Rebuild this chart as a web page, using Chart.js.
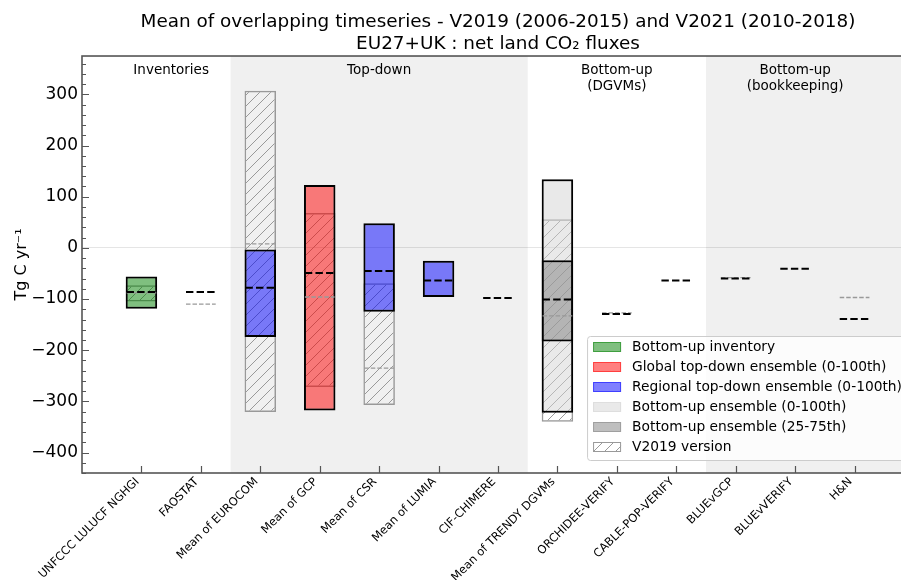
<!DOCTYPE html>
<html>
<head>
<meta charset="utf-8">
<script src="https://cdn.jsdelivr.net/npm/chart.js@4.4.1/dist/chart.umd.min.js"></script>
<style>
html,body{margin:0;padding:0;overflow:hidden;background:#fff;width:901px;height:580px;}
canvas{display:block;}
</style>
</head>
<body>
<canvas id="c" width="920" height="580" style="width:920px;height:580px"></canvas>
<script>
// ---------------- data ----------------
const categories = ['UNFCCC LULUCF NGHGI', 'FAOSTAT', 'Mean of EUROCOM', 'Mean of GCP', 'Mean of CSR',
  'Mean of LUMIA', 'CIF-CHIMERE', 'Mean of TRENDY DGVMs', 'ORCHIDEE-VERIFY', 'CABLE-POP-VERIFY',
  'BLUEvGCP', 'BLUEvVERIFY', 'H&N'];
const ensembleKind = ['inventory', null, 'regional', 'global', 'regional', 'regional', null, 'bottomup',
  null, null, null, null, null];
// V2021 (2010-2018)
const v2021Min  = [-119, null, -174, -318, -125, -96, null, -322, null, null, null, null, null];
const v2021Max  = [-56, null, -3, 123, 48, -25, null, 134, null, null, null, null, null];
const v2021P25  = [null, null, null, null, null, null, null, -183, null, null, null, null, null];
const v2021P75  = [null, null, null, null, null, null, null, -24, null, null, null, null, null];
const v2021Mean = [-86, -86, -78, -49, -45, -64, -98, -101, -129, -64, -60, -41, -139];
// V2019 (2006-2015)
const v2019Min  = [-105, null, -321, -272, -307, null, null, -340, null, null, null, null, null];
const v2019Max  = [-73, null, 307, 68, -69, null, null, 56, null, null, null, null, null];
const v2019Mean = [-88, -110, 8, -96, -235, null, null, -133, -127, null, -58, null, -97];
// groups of categories
const groupNames = ['Inventories', 'Top-down', 'Bottom-up\n(DGVMs)', 'Bottom-up\n(bookkeeping)'];
const groupFirst = [0, 2, 7, 10];
const groupLast  = [1, 6, 9, 12];
// axis tick labels
const yTickLabels = [-400, -300, -200, -100, 0, 100, 200, 300];
const legendLabels = ['Bottom-up inventory', 'Global top-down ensemble (0-100th)',
  'Regional top-down ensemble (0-100th)', 'Bottom-up ensemble (0-100th)',
  'Bottom-up ensemble (25-75th)', 'V2019 version'];
const titleLines = ['Mean of overlapping timeseries - V2019 (2006-2015) and V2021 (2010-2018)',
  'EU27+UK : net land CO\u2082 fluxes'];
const yAxisTitle = 'Tg C yr\u207B\u00B9';

// ---------------- styles ----------------
const FONT = 'DejaVu Sans';
Chart.defaults.font.family = FONT;
Chart.defaults.color = '#000';
const C_GREEN = 'rgba(0,128,0,0.5)';
const C_RED = 'rgba(255,0,0,0.5)';
const C_BLUE = 'rgba(0,0,255,0.5)';
const C_LIGHT = 'rgba(211,211,211,0.5)';
const C_DARK = 'rgba(128,128,128,0.5)';
const C_HATCH = '#999999';
const SPINE = '#555555';
const SHADE = '#f0f0f0';
const LEGEND_FONT = 13.8;

const canvas = document.getElementById('c');
const ctx = canvas.getContext('2d');

function hatchPattern(bg) {
  const s = 11;
  const c = document.createElement('canvas');
  c.width = s; c.height = s;
  const g = c.getContext('2d');
  if (bg) { g.fillStyle = bg; g.fillRect(0, 0, s, s); }
  g.strokeStyle = C_HATCH;
  g.lineWidth = 1;
  g.beginPath();
  g.moveTo(0, s); g.lineTo(s, 0);
  g.moveTo(-1, 1); g.lineTo(1, -1);
  g.moveTo(s - 1, s + 1); g.lineTo(s + 1, s - 1);
  g.stroke();
  return ctx.createPattern(c, 'repeat');
}
const HATCH = hatchPattern(null);
const HATCH_W = hatchPattern('#ffffff');

function ranges(lo, hi, keep) {
  const out = [];
  categories.forEach((_, i) => {
    if (keep(i) && lo[i] != null && hi[i] != null) out.push({x: i, y: [lo[i], hi[i]]});
  });
  return out;
}
function meanSegs(arr) {
  const out = [];
  arr.forEach((v, i) => {
    if (v != null) out.push({x: i - 0.25, y: v}, {x: i + 0.25, y: v}, {x: i, y: null});
  });
  return out;
}
const barBase = {type: 'bar', grouped: false, borderSkipped: false, barPercentage: 0.53, categoryPercentage: 1};
const boxBase = Object.assign({}, barBase, {borderColor: '#000', borderWidth: 2, order: 2});

const datasets = [
  Object.assign({}, barBase, {label: 'V2019 version', data: ranges(v2019Min, v2019Max, () => true),
    backgroundColor: HATCH, borderColor: C_HATCH, borderWidth: 1.5, order: 3}),
  Object.assign({}, boxBase, {label: legendLabels[0], data: ranges(v2021Min, v2021Max, i => ensembleKind[i] === 'inventory'),
    backgroundColor: C_GREEN}),
  Object.assign({}, boxBase, {label: legendLabels[1], data: ranges(v2021Min, v2021Max, i => ensembleKind[i] === 'global'),
    backgroundColor: C_RED}),
  Object.assign({}, boxBase, {label: legendLabels[2], data: ranges(v2021Min, v2021Max, i => ensembleKind[i] === 'regional'),
    backgroundColor: C_BLUE}),
  Object.assign({}, boxBase, {label: legendLabels[3], data: ranges(v2021Min, v2021Max, i => ensembleKind[i] === 'bottomup'),
    backgroundColor: C_LIGHT}),
  Object.assign({}, boxBase, {label: legendLabels[4], data: ranges(v2021P25, v2021P75, () => true),
    backgroundColor: C_DARK, order: 1}),
  {type: 'line', label: 'V2019 mean', data: meanSegs(v2019Mean), borderColor: C_HATCH, borderWidth: 1.3,
    borderDash: [4.5, 2], pointRadius: 0, spanGaps: false, fill: false, tension: 0, order: 0.5, borderCapStyle: 'butt'},
  {type: 'line', label: 'V2021 mean', data: meanSegs(v2021Mean), borderColor: '#000', borderWidth: 2,
    borderDash: [7.4, 3.2], pointRadius: 0, spanGaps: false, fill: false, tension: 0, order: 0, borderCapStyle: 'butt'}
];

const fmtY = v => (v < 0 ? '\u2212' + Math.abs(v) : String(v));

const decor = {
  id: 'decor',
  beforeDraw(chart) {
    const {ctx, chartArea: a, scales: {x}} = chart;
    ctx.save();
    ctx.fillStyle = SHADE;
    groupNames.forEach((_, g) => {
      if (g % 2 === 1) {
        const l = x.getPixelForValue(groupFirst[g] - 0.5);
        const r = g === groupNames.length - 1 ? a.right : x.getPixelForValue(groupLast[g] + 0.5);
        ctx.fillRect(l, a.top, r - l, a.bottom - a.top);
      }
    });
    ctx.restore();
  },
  afterDatasetsDraw(chart) {
    const {ctx, chartArea: a, scales: {x, y}} = chart;
    ctx.save();
    // group labels
    ctx.fillStyle = '#000';
    ctx.font = '13.5px "' + FONT + '"';
    ctx.textAlign = 'center';
    ctx.textBaseline = 'middle';
    groupNames.forEach((name, g) => {
      const cx = x.getPixelForValue((groupFirst[g] + groupLast[g]) / 2);
      name.split('\n').forEach((line, k) => ctx.fillText(line, cx, a.top + 14.5 + k * 15.5));
    });
    // inward ticks
    ctx.strokeStyle = SPINE;
    ctx.lineWidth = 1.2;
    ctx.beginPath();
    y.ticks.forEach(t => {
      const py = Math.round(y.getPixelForValue(t.value)) + 0.5;
      const len = yTickLabels.includes(t.value) ? 7 : 4;
      ctx.moveTo(a.left, py); ctx.lineTo(a.left + len, py);
    });
    x.ticks.forEach(t => {
      const px = Math.round(x.getPixelForValue(t.value)) + 0.5;
      ctx.moveTo(px, a.bottom); ctx.lineTo(px, a.bottom - 7);
    });
    ctx.stroke();
    // frame
    ctx.lineWidth = 1.6;
    ctx.strokeRect(a.left, a.top, a.right - a.left, a.bottom - a.top);
    ctx.restore();
  },
  afterDraw(chart) {
    const {ctx, chartArea: a} = chart;
    ctx.save();
    ctx.font = LEGEND_FONT + 'px "' + FONT + '"';
    const tw = Math.max(...legendLabels.map(s => ctx.measureText(s).width));
    const w = 45 + tw + 6;
    const h = 124;
    const right = a.right - 6;
    const bottom = a.bottom - 13;
    const left = right - w, top = bottom - h;
    ctx.beginPath();
    ctx.roundRect(left + 0.5, top + 0.5, w, h, 3);
    ctx.fillStyle = 'rgba(255,255,255,0.8)';
    ctx.fill();
    ctx.strokeStyle = '#cccccc';
    ctx.lineWidth = 1;
    ctx.stroke();
    const swatch = [C_GREEN, C_RED, C_BLUE, C_LIGHT, C_DARK, 'hatch'];
    legendLabels.forEach((lab, i) => {
      const cy = top + 11 + i * 20;
      const sx = left + 6, sy = cy - 5, sw = 28, sh = 10;
      if (swatch[i] === 'hatch') {
        ctx.fillStyle = HATCH_W;
        ctx.fillRect(sx, sy, sw, sh);
        ctx.strokeStyle = C_HATCH;
      } else {
        ctx.fillStyle = swatch[i];
        ctx.fillRect(sx, sy, sw, sh);
        ctx.strokeStyle = swatch[i];
      }
      ctx.lineWidth = 1;
      ctx.strokeRect(sx + 0.5, sy + 0.5, sw - 1, sh - 1);
      ctx.fillStyle = '#000';
      ctx.textAlign = 'left';
      ctx.textBaseline = 'middle';
      ctx.fillText(lab, left + 45, cy + 0.5);
    });
    ctx.restore();
  }
};

new Chart(ctx, {
  type: 'bar',
  data: {datasets},
  options: {
    responsive: false,
    animation: false,
    events: [],
    layout: {padding: {left: 0, right: 6, top: 0, bottom: 0}},
    plugins: {
      legend: {display: false},
      tooltip: {enabled: false},
      title: {display: true, text: titleLines, fullSize: false, color: '#000',
        font: {size: 18.4, weight: 'normal', lineHeight: 1.196}, padding: {top: 11, bottom: 1}}
    },
    scales: {
      x: {
        type: 'linear', min: -1, max: 13, offset: false,
        grid: {display: false, drawTicks: false},
        border: {display: false},
        afterBuildTicks: s => { s.ticks = categories.map((_, i) => ({value: i})); },
        afterFit: s => { s.height = 107; },
        ticks: {autoSkip: false, minRotation: 45, maxRotation: 45, padding: 2, labelOffset: -4, color: '#000',
          font: {size: 11.5}, callback: v => categories[v] ?? ''}
      },
      y: {
        type: 'linear', min: -440, max: 375,
        grid: {drawTicks: false, lineWidth: 1,
          color: c => (c.tick && c.tick.value === 0 ? 'rgba(0,0,0,0.10)' : 'rgba(0,0,0,0)')},
        border: {display: false},
        afterBuildTicks: s => {
          const t = [];
          for (let v = -440; v <= 360; v += 20) t.push({value: v});
          s.ticks = t;
        },
        afterFit: s => { s.width = 82; },
        ticks: {padding: 4, color: '#000', font: {size: 17}, autoSkip: false,
          callback: v => (yTickLabels.includes(v) ? fmtY(v) : '')},
        title: {display: true, text: yAxisTitle, color: '#000', font: {size: 16}, padding: {top: 12, bottom: 0}}
      }
    }
  },
  plugins: [decor]
});
</script>
</body>
</html>
